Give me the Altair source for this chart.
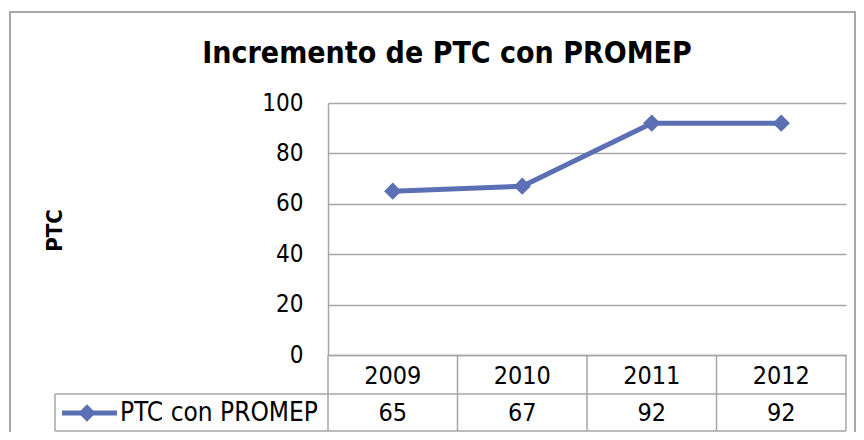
import altair as alt
import pandas as pd

years = ["2009", "2010", "2011", "2012"]
values = [65, 67, 92, 92]
series_name = "PTC con PROMEP"
chart_title = "Incremento de PTC con PROMEP"
y_title = "PTC"
y_ticks = [0, 20, 40, 60, 80, 100]

df = pd.DataFrame({"year": years, "value": values})
legend_df = pd.DataFrame({"name": [series_name]})
title_df = pd.DataFrame({"title": [chart_title]})

FONT = "DejaVu Sans Condensed"
LINE_COLOR = "#5B6FB3"
GRID = "#A6A6A6"
W, H = 518, 252

xscale = alt.Scale(type="band", paddingInner=0, paddingOuter=0, domain=years)
yscale = alt.Scale(domain=[0, 100])

base = alt.Chart(df)

xenc = alt.X("year:O", scale=xscale, bandPosition=0.5,
             axis=alt.Axis(title=None, ticks=False, domain=True, domainColor=GRID,
                           domainWidth=1.5, labelFontSize=25, labelPadding=8,
                           labelColor="black", labelAngle=0, grid=False))
yenc = alt.Y("value:Q", scale=yscale,
             axis=alt.Axis(values=y_ticks, title=y_title, titleFontSize=22,
                           titleFontWeight="bold", titleColor="black", titleAngle=-90,
                           titleX=-262, titleY=127, ticks=False, domain=True,
                           domainColor=GRID, domainWidth=1.5, labelPadding=25,
                           labelFontSize=24, labelColor="black", grid=True,
                           gridColor=GRID, gridWidth=1.5))

one = alt.datum.year == years[0]

border = base.mark_rect(fill=None, stroke="#8C8C8C", strokeWidth=1.5).encode(
    x=alt.value(-318), x2=alt.value(527), y=alt.value(-91), y2=alt.value(345)
).transform_filter(one)

title = alt.Chart(title_df).mark_text(
    fontSize=30, fontWeight="bold", font=FONT, color="black", align="center",
    baseline="alphabetic").encode(x=alt.value(119), y=alt.value(-40), text="title:N")

line = base.mark_line(color=LINE_COLOR, strokeWidth=5).encode(x=xenc, y=yenc)
pts = base.mark_point(shape="diamond", filled=True, size=300, color=LINE_COLOR,
                      opacity=1).encode(
    x=alt.X("year:O", scale=xscale, bandPosition=0.5), y=alt.Y("value:Q", scale=yscale))

# table lines
vrules = base.mark_rule(color=GRID, strokeWidth=1.5).encode(
    x=alt.X("year:O", scale=xscale, bandPosition=0), y=alt.value(H), y2=alt.value(328))
vend = base.mark_rule(color=GRID, strokeWidth=1.5).encode(
    x=alt.value(W), y=alt.value(H), y2=alt.value(328)).transform_filter(one)
hr1 = base.mark_rule(color=GRID, strokeWidth=1.5).encode(
    x=alt.value(-273), x2=alt.value(W), y=alt.value(291)).transform_filter(one)
hr2 = base.mark_rule(color=GRID, strokeWidth=1.5).encode(
    x=alt.value(-273), x2=alt.value(W), y=alt.value(328)).transform_filter(one)
vleft = base.mark_rule(color=GRID, strokeWidth=1.5).encode(
    x=alt.value(-273), y=alt.value(291), y2=alt.value(328)).transform_filter(one)

vals = base.mark_text(fontSize=25, font=FONT, color="black", baseline="middle").encode(
    x=alt.X("year:O", scale=xscale, bandPosition=0.5), y=alt.value(310),
    text="value:Q")

leg = alt.Chart(legend_df)
leg_line = leg.mark_rule(color=LINE_COLOR, strokeWidth=5).encode(
    x=alt.value(-266), x2=alt.value(-211), y=alt.value(310))
leg_pt = leg.mark_point(shape="diamond", filled=True, size=300, color=LINE_COLOR,
                        opacity=1).encode(x=alt.value(-241), y=alt.value(310))
leg_txt = leg.mark_text(fontSize=26, font=FONT, color="black", align="left",
                        baseline="middle").encode(
    x=alt.value(-208), y=alt.value(310), text="name:N")

chart = alt.layer(
    border, title, line, pts, vrules, vend, hr1, hr2, vleft, vals,
    leg_line, leg_pt, leg_txt
).properties(
    width=W, height=H,
    autosize=alt.AutoSizeParams(type="none"),
    padding={"left": 320, "top": 95, "right": 10, "bottom": 77},
).configure(font=FONT).configure_view(stroke=None).configure_axis(
    labelFont=FONT, titleFont=FONT)

chart.save("out.html", embed_options={"renderer": "svg", "actions": False})
